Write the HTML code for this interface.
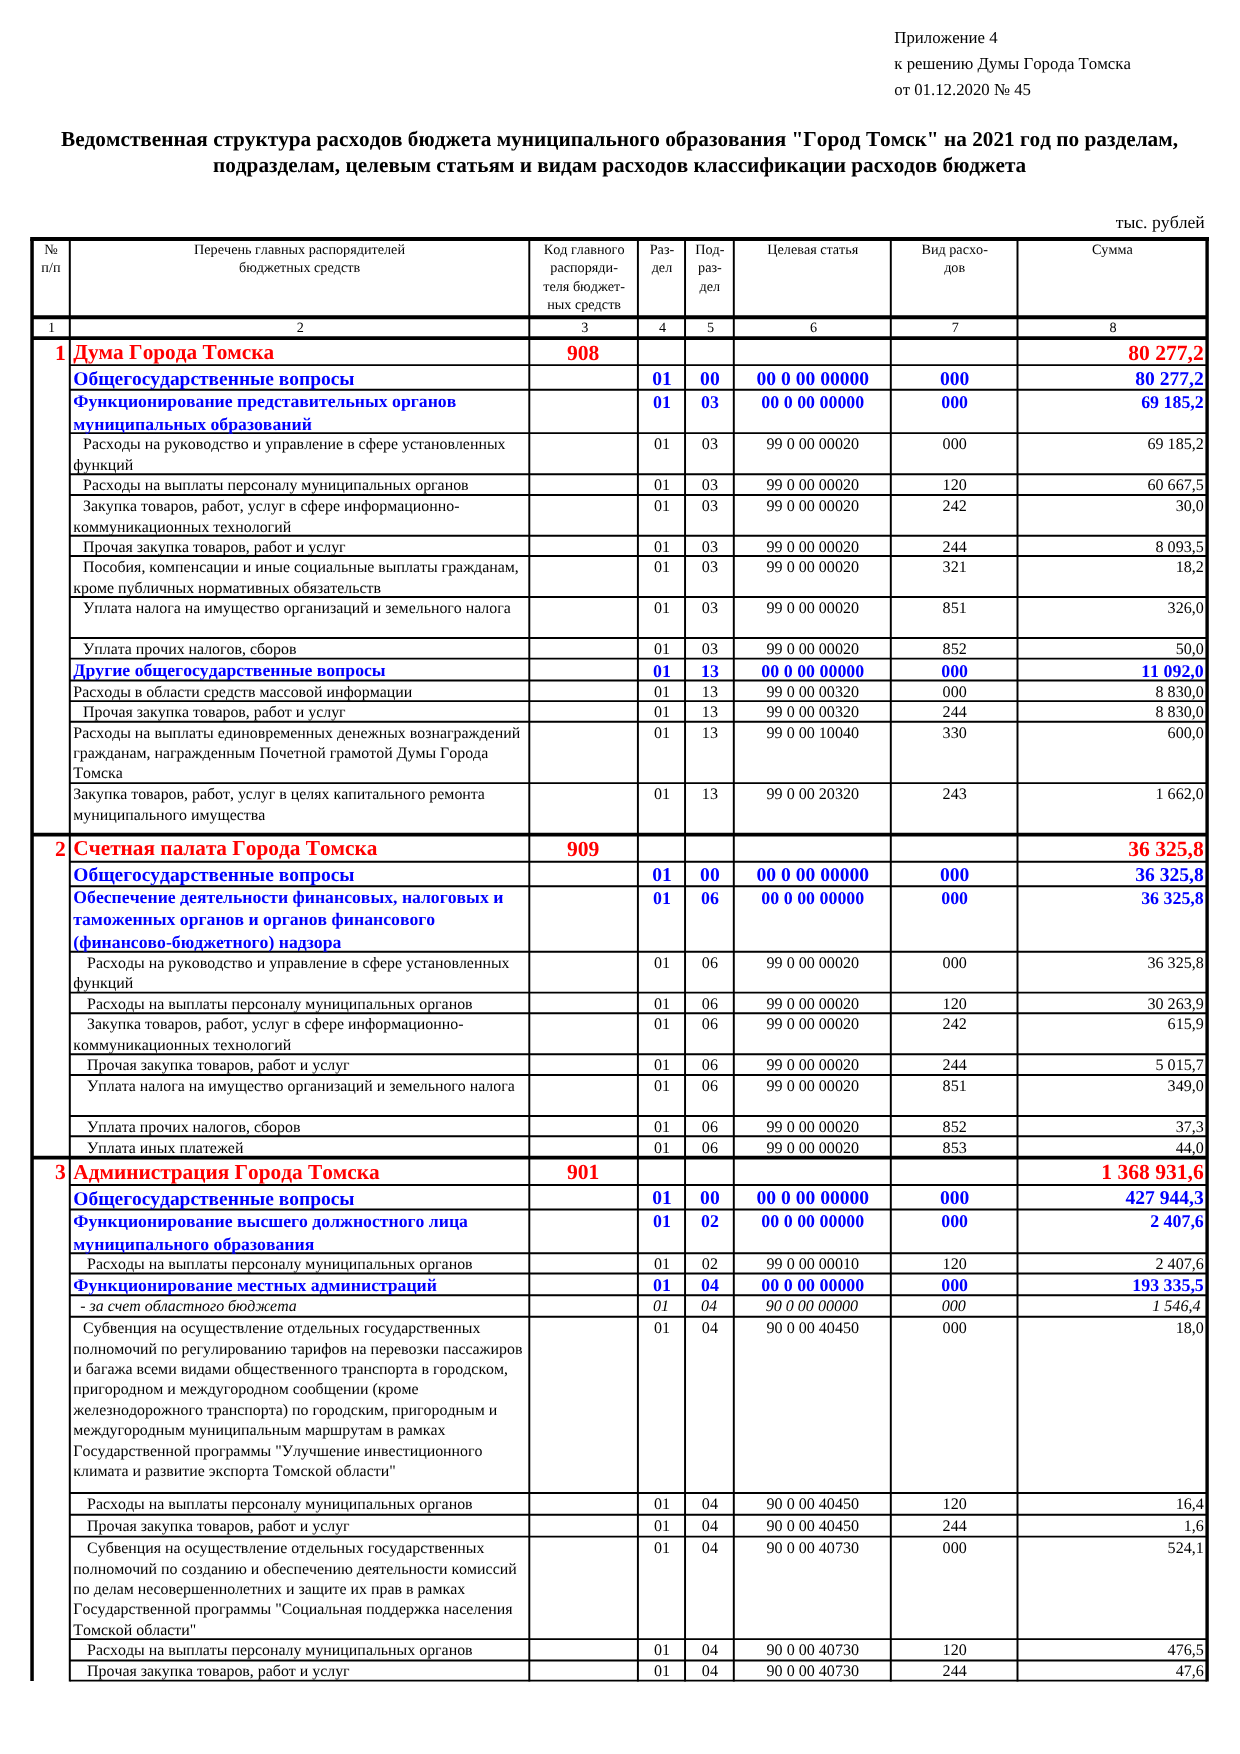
<!DOCTYPE html>
<html lang="ru"><head><meta charset="utf-8"><title>Приложение 4</title>
<style>
html,body{margin:0;padding:0;background:#fff}
body{width:1240px;height:1754px;position:relative;overflow:hidden;font-family:"Liberation Serif","Times New Roman",serif;color:#000;font-kerning:none;text-rendering:geometricPrecision}
text{white-space:pre}
.reg{font-size:15.9px}
.ital{font-size:15.9px;font-style:italic}
.b2{font-size:17.7px;font-weight:bold;fill:#0000ff}
.b2n{font-size:17.9px;font-weight:bold;fill:#0000ff}
.b1n{font-size:19.6px;font-weight:bold;fill:#0000ff}
.redn{font-size:21.6px;font-weight:bold;fill:#ff0000}
.regn{font-size:16.1px}
.italn{font-size:16.1px;font-style:italic}
.b1{font-size:19.45px;font-weight:bold;fill:#0000ff}
.red{font-size:21.3px;font-weight:bold;fill:#ff0000}
.title{font-size:21.25px;font-weight:bold}
.tr{font-size:16.8px}
.unit{font-size:17.7px}
.hd{font-size:14.2px}
.hn{font-size:14.2px}
#pg{position:absolute;left:0;top:0;width:1240px;height:1754px;will-change:transform}
svg{position:absolute;left:0;top:0}
svg line{stroke:#000}
</style></head>
<body>
<div id="pg">
<svg width="1240" height="1754" viewBox="0 0 1240 1754">
<line x1="69.80" y1="365.10" x2="1207.10" y2="365.10" stroke-width="1.95"/>
<line x1="69.80" y1="389.80" x2="1207.10" y2="389.80" stroke-width="1.95"/>
<line x1="69.80" y1="433.10" x2="1207.10" y2="433.10" stroke-width="1.95"/>
<line x1="69.80" y1="474.20" x2="1207.10" y2="474.20" stroke-width="1.95"/>
<line x1="69.80" y1="495.00" x2="1207.10" y2="495.00" stroke-width="1.95"/>
<line x1="69.80" y1="535.70" x2="1207.10" y2="535.70" stroke-width="1.95"/>
<line x1="69.80" y1="556.00" x2="1207.10" y2="556.00" stroke-width="1.95"/>
<line x1="69.80" y1="597.00" x2="1207.10" y2="597.00" stroke-width="1.95"/>
<line x1="69.80" y1="638.00" x2="1207.10" y2="638.00" stroke-width="1.95"/>
<line x1="69.80" y1="658.60" x2="1207.10" y2="658.60" stroke-width="1.95"/>
<line x1="69.80" y1="680.40" x2="1207.10" y2="680.40" stroke-width="1.95"/>
<line x1="69.80" y1="701.10" x2="1207.10" y2="701.10" stroke-width="1.95"/>
<line x1="69.80" y1="721.70" x2="1207.10" y2="721.70" stroke-width="1.95"/>
<line x1="69.80" y1="783.10" x2="1207.10" y2="783.10" stroke-width="1.95"/>
<line x1="32.05" y1="834.70" x2="1207.10" y2="834.70" stroke-width="3.7"/>
<line x1="69.80" y1="861.70" x2="1207.10" y2="861.70" stroke-width="1.95"/>
<line x1="69.80" y1="886.20" x2="1207.10" y2="886.20" stroke-width="1.95"/>
<line x1="69.80" y1="951.70" x2="1207.10" y2="951.70" stroke-width="1.95"/>
<line x1="69.80" y1="992.60" x2="1207.10" y2="992.60" stroke-width="1.95"/>
<line x1="69.80" y1="1013.30" x2="1207.10" y2="1013.30" stroke-width="1.95"/>
<line x1="69.80" y1="1054.20" x2="1207.10" y2="1054.20" stroke-width="1.95"/>
<line x1="69.80" y1="1074.90" x2="1207.10" y2="1074.90" stroke-width="1.95"/>
<line x1="69.80" y1="1116.00" x2="1207.10" y2="1116.00" stroke-width="1.95"/>
<line x1="69.80" y1="1136.30" x2="1207.10" y2="1136.30" stroke-width="1.95"/>
<line x1="32.05" y1="1157.70" x2="1207.10" y2="1157.70" stroke-width="3.7"/>
<line x1="69.80" y1="1185.00" x2="1207.10" y2="1185.00" stroke-width="1.95"/>
<line x1="69.80" y1="1209.40" x2="1207.10" y2="1209.40" stroke-width="1.95"/>
<line x1="69.80" y1="1253.20" x2="1207.10" y2="1253.20" stroke-width="1.95"/>
<line x1="69.80" y1="1273.40" x2="1207.10" y2="1273.40" stroke-width="1.95"/>
<line x1="69.80" y1="1295.30" x2="1207.10" y2="1295.30" stroke-width="1.95"/>
<line x1="69.80" y1="1316.70" x2="1207.10" y2="1316.70" stroke-width="1.95"/>
<line x1="69.80" y1="1493.00" x2="1207.10" y2="1493.00" stroke-width="1.95"/>
<line x1="69.80" y1="1514.70" x2="1207.10" y2="1514.70" stroke-width="1.95"/>
<line x1="69.80" y1="1536.60" x2="1207.10" y2="1536.60" stroke-width="1.95"/>
<line x1="69.80" y1="1639.10" x2="1207.10" y2="1639.10" stroke-width="1.95"/>
<line x1="69.80" y1="1660.50" x2="1207.10" y2="1660.50" stroke-width="1.95"/>
<line x1="69.80" y1="1680.60" x2="1207.10" y2="1680.60" stroke-width="1.95"/>
<line x1="30.15" y1="239.00" x2="1209.00" y2="239.00" stroke-width="4.0"/>
<line x1="32.05" y1="317.35" x2="1207.10" y2="317.35" stroke-width="4.0"/>
<line x1="32.05" y1="338.10" x2="1207.10" y2="338.10" stroke-width="3.8"/>
<line x1="32.05" y1="239.00" x2="32.05" y2="1681.00" stroke-width="3.5"/>
<line x1="1207.10" y1="239.00" x2="1207.10" y2="1681.45" stroke-width="3.4"/>
<line x1="69.80" y1="239.00" x2="69.80" y2="1681.45" stroke-width="2.0"/>
<line x1="529.30" y1="239.00" x2="529.30" y2="1681.45" stroke-width="1.95"/>
<line x1="637.90" y1="239.00" x2="637.90" y2="1681.45" stroke-width="1.95"/>
<line x1="685.05" y1="239.00" x2="685.05" y2="1681.45" stroke-width="1.95"/>
<line x1="733.80" y1="239.00" x2="733.80" y2="1681.45" stroke-width="1.95"/>
<line x1="890.80" y1="239.00" x2="890.80" y2="1681.45" stroke-width="1.95"/>
<line x1="1017.50" y1="239.00" x2="1017.50" y2="1681.45" stroke-width="1.95"/>
</svg>
<svg id="tx" width="1240" height="1754" viewBox="0 0 1240 1754">
<text class="tr" x="894.30" y="43.00">Приложение 4</text>
<text class="tr" x="894.30" y="69.00">к решению Думы Города Томска</text>
<text class="tr" x="894.30" y="94.50">от 01.12.2020 № 45</text>
<text class="title" x="619.50" y="145.70" text-anchor="middle">Ведомственная структура расходов бюджета муниципального образования "Город Томск" на 2021 год по разделам,</text>
<text class="title" x="619.50" y="171.70" text-anchor="middle">подразделам, целевым статьям и видам расходов классификации расходов бюджета</text>
<text class="unit" x="1204.80" y="227.60" text-anchor="end">тыс. рублей</text>
<text class="hd" x="50.92" y="253.70" text-anchor="middle">№</text>
<text class="hd" x="50.92" y="272.10" text-anchor="middle">п/п</text>
<text class="hd" x="299.55" y="253.70" text-anchor="middle">Перечень главных распорядителей</text>
<text class="hd" x="299.55" y="272.10" text-anchor="middle">бюджетных средств</text>
<text class="hd" x="584.10" y="253.70" text-anchor="middle">Код главного</text>
<text class="hd" x="584.10" y="272.10" text-anchor="middle">распоряди-</text>
<text class="hd" x="584.10" y="290.50" text-anchor="middle">теля бюджет-</text>
<text class="hd" x="584.10" y="308.90" text-anchor="middle">ных средств</text>
<text class="hd" x="661.97" y="253.70" text-anchor="middle">Раз-</text>
<text class="hd" x="661.97" y="272.10" text-anchor="middle">дел</text>
<text class="hd" x="709.92" y="253.70" text-anchor="middle">Под-</text>
<text class="hd" x="709.92" y="272.10" text-anchor="middle">раз-</text>
<text class="hd" x="709.92" y="290.50" text-anchor="middle">дел</text>
<text class="hd" x="812.80" y="253.70" text-anchor="middle">Целевая статья</text>
<text class="hd" x="954.65" y="253.70" text-anchor="middle">Вид расхо-</text>
<text class="hd" x="954.65" y="272.10" text-anchor="middle">дов</text>
<text class="hd" x="1112.30" y="253.70" text-anchor="middle">Сумма</text>
<text class="hn" x="51.62" y="332.00" text-anchor="middle">1</text>
<text class="hn" x="300.25" y="332.00" text-anchor="middle">2</text>
<text class="hn" x="584.80" y="332.00" text-anchor="middle">3</text>
<text class="hn" x="662.67" y="332.00" text-anchor="middle">4</text>
<text class="hn" x="710.62" y="332.00" text-anchor="middle">5</text>
<text class="hn" x="813.50" y="332.00" text-anchor="middle">6</text>
<text class="hn" x="955.35" y="332.00" text-anchor="middle">7</text>
<text class="hn" x="1113.00" y="332.00" text-anchor="middle">8</text>
<text class="red" x="73.30" y="359.10">Дума Города Томска</text>
<text class="redn" x="65.90" y="360.00" text-anchor="end">1</text>
<text class="redn" x="583.10" y="360.00" text-anchor="middle">908</text>
<text class="redn" x="1203.80" y="360.00" text-anchor="end">80 277,2</text>
<text class="b1" x="73.30" y="384.70">Общегосударственные вопросы</text>
<text class="b1n" x="661.97" y="385.30" text-anchor="middle">01</text>
<text class="b1n" x="709.92" y="385.30" text-anchor="middle">00</text>
<text class="b1n" x="812.80" y="385.30" text-anchor="middle">00 0 00 00000</text>
<text class="b1n" x="954.65" y="385.30" text-anchor="middle">000</text>
<text class="b1n" x="1203.80" y="385.30" text-anchor="end">80 277,2</text>
<text class="b2" x="73.30" y="406.60">Функционирование представительных органов</text>
<text class="b2" x="73.30" y="429.80">муниципальных образований</text>
<text class="b2n" x="661.97" y="407.90" text-anchor="middle">01</text>
<text class="b2n" x="709.92" y="407.90" text-anchor="middle">03</text>
<text class="b2n" x="812.80" y="407.90" text-anchor="middle">00 0 00 00000</text>
<text class="b2n" x="954.65" y="407.90" text-anchor="middle">000</text>
<text class="b2n" x="1203.80" y="407.90" text-anchor="end">69 185,2</text>
<text class="reg" x="83.10" y="449.10">Расходы на руководство и управление в сфере установленных</text>
<text class="reg" x="73.30" y="469.50">функций</text>
<text class="regn" x="661.97" y="449.10" text-anchor="middle">01</text>
<text class="regn" x="709.92" y="449.10" text-anchor="middle">03</text>
<text class="regn" x="812.80" y="449.10" text-anchor="middle">99 0 00 00020</text>
<text class="regn" x="954.65" y="449.10" text-anchor="middle">000</text>
<text class="regn" x="1203.80" y="449.10" text-anchor="end">69 185,2</text>
<text class="reg" x="83.10" y="490.20">Расходы на выплаты персоналу муниципальных органов</text>
<text class="regn" x="661.97" y="490.20" text-anchor="middle">01</text>
<text class="regn" x="709.92" y="490.20" text-anchor="middle">03</text>
<text class="regn" x="812.80" y="490.20" text-anchor="middle">99 0 00 00020</text>
<text class="regn" x="954.65" y="490.20" text-anchor="middle">120</text>
<text class="regn" x="1203.80" y="490.20" text-anchor="end">60 667,5</text>
<text class="reg" x="83.10" y="511.20">Закупка товаров, работ, услуг в сфере информационно-</text>
<text class="reg" x="73.30" y="531.60">коммуникационных технологий</text>
<text class="regn" x="661.97" y="511.20" text-anchor="middle">01</text>
<text class="regn" x="709.92" y="511.20" text-anchor="middle">03</text>
<text class="regn" x="812.80" y="511.20" text-anchor="middle">99 0 00 00020</text>
<text class="regn" x="954.65" y="511.20" text-anchor="middle">242</text>
<text class="regn" x="1203.80" y="511.20" text-anchor="end">30,0</text>
<text class="reg" x="83.10" y="552.20">Прочая закупка товаров, работ и услуг</text>
<text class="regn" x="661.97" y="552.20" text-anchor="middle">01</text>
<text class="regn" x="709.92" y="552.20" text-anchor="middle">03</text>
<text class="regn" x="812.80" y="552.20" text-anchor="middle">99 0 00 00020</text>
<text class="regn" x="954.65" y="552.20" text-anchor="middle">244</text>
<text class="regn" x="1203.80" y="552.20" text-anchor="end">8 093,5</text>
<text class="reg" x="83.10" y="572.20">Пособия, компенсации и иные социальные выплаты гражданам,</text>
<text class="reg" x="73.30" y="592.60">кроме публичных нормативных обязательств</text>
<text class="regn" x="661.97" y="572.20" text-anchor="middle">01</text>
<text class="regn" x="709.92" y="572.20" text-anchor="middle">03</text>
<text class="regn" x="812.80" y="572.20" text-anchor="middle">99 0 00 00020</text>
<text class="regn" x="954.65" y="572.20" text-anchor="middle">321</text>
<text class="regn" x="1203.80" y="572.20" text-anchor="end">18,2</text>
<text class="reg" x="83.10" y="613.20">Уплата налога на имущество организаций и земельного налога</text>
<text class="regn" x="661.97" y="613.20" text-anchor="middle">01</text>
<text class="regn" x="709.92" y="613.20" text-anchor="middle">03</text>
<text class="regn" x="812.80" y="613.20" text-anchor="middle">99 0 00 00020</text>
<text class="regn" x="954.65" y="613.20" text-anchor="middle">851</text>
<text class="regn" x="1203.80" y="613.20" text-anchor="end">326,0</text>
<text class="reg" x="83.10" y="654.20">Уплата прочих налогов, сборов</text>
<text class="regn" x="661.97" y="654.20" text-anchor="middle">01</text>
<text class="regn" x="709.92" y="654.20" text-anchor="middle">03</text>
<text class="regn" x="812.80" y="654.20" text-anchor="middle">99 0 00 00020</text>
<text class="regn" x="954.65" y="654.20" text-anchor="middle">852</text>
<text class="regn" x="1203.80" y="654.20" text-anchor="end">50,0</text>
<text class="b2" x="73.30" y="675.60">Другие общегосударственные вопросы</text>
<text class="b2n" x="661.97" y="676.90" text-anchor="middle">01</text>
<text class="b2n" x="709.92" y="676.90" text-anchor="middle">13</text>
<text class="b2n" x="812.80" y="676.90" text-anchor="middle">00 0 00 00000</text>
<text class="b2n" x="954.65" y="676.90" text-anchor="middle">000</text>
<text class="b2n" x="1203.80" y="676.90" text-anchor="end">11 092,0</text>
<text class="reg" x="73.30" y="696.60">Расходы в области средств массовой информации</text>
<text class="regn" x="661.97" y="696.60" text-anchor="middle">01</text>
<text class="regn" x="709.92" y="696.60" text-anchor="middle">13</text>
<text class="regn" x="812.80" y="696.60" text-anchor="middle">99 0 00 00320</text>
<text class="regn" x="954.65" y="696.60" text-anchor="middle">000</text>
<text class="regn" x="1203.80" y="696.60" text-anchor="end">8 830,0</text>
<text class="reg" x="83.10" y="717.00">Прочая закупка товаров, работ и услуг</text>
<text class="regn" x="661.97" y="717.00" text-anchor="middle">01</text>
<text class="regn" x="709.92" y="717.00" text-anchor="middle">13</text>
<text class="regn" x="812.80" y="717.00" text-anchor="middle">99 0 00 00320</text>
<text class="regn" x="954.65" y="717.00" text-anchor="middle">244</text>
<text class="regn" x="1203.80" y="717.00" text-anchor="end">8 830,0</text>
<text class="reg" x="73.30" y="737.50">Расходы на выплаты единовременных денежных вознаграждений</text>
<text class="reg" x="73.30" y="757.90">гражданам, награжденным Почетной грамотой Думы Города</text>
<text class="reg" x="73.30" y="778.30">Томска</text>
<text class="regn" x="661.97" y="737.50" text-anchor="middle">01</text>
<text class="regn" x="709.92" y="737.50" text-anchor="middle">13</text>
<text class="regn" x="812.80" y="737.50" text-anchor="middle">99 0 00 10040</text>
<text class="regn" x="954.65" y="737.50" text-anchor="middle">330</text>
<text class="regn" x="1203.80" y="737.50" text-anchor="end">600,0</text>
<text class="reg" x="73.30" y="799.10">Закупка товаров, работ, услуг в целях капитального ремонта</text>
<text class="reg" x="73.30" y="819.50">муниципального имущества</text>
<text class="regn" x="661.97" y="799.10" text-anchor="middle">01</text>
<text class="regn" x="709.92" y="799.10" text-anchor="middle">13</text>
<text class="regn" x="812.80" y="799.10" text-anchor="middle">99 0 00 20320</text>
<text class="regn" x="954.65" y="799.10" text-anchor="middle">243</text>
<text class="regn" x="1203.80" y="799.10" text-anchor="end">1 662,0</text>
<text class="red" x="73.30" y="855.40">Счетная палата Города Томска</text>
<text class="redn" x="65.90" y="856.30" text-anchor="end">2</text>
<text class="redn" x="583.10" y="856.30" text-anchor="middle">909</text>
<text class="redn" x="1203.80" y="856.30" text-anchor="end">36 325,8</text>
<text class="b1" x="73.30" y="881.00">Общегосударственные вопросы</text>
<text class="b1n" x="661.97" y="880.80" text-anchor="middle">01</text>
<text class="b1n" x="709.92" y="880.80" text-anchor="middle">00</text>
<text class="b1n" x="812.80" y="880.80" text-anchor="middle">00 0 00 00000</text>
<text class="b1n" x="954.65" y="880.80" text-anchor="middle">000</text>
<text class="b1n" x="1203.80" y="880.80" text-anchor="end">36 325,8</text>
<text class="b2" x="73.30" y="902.60">Обеспечение деятельности финансовых, налоговых и</text>
<text class="b2" x="73.30" y="925.35">таможенных органов и органов финансового</text>
<text class="b2" x="73.30" y="948.10">(финансово-бюджетного) надзора</text>
<text class="b2n" x="661.97" y="903.80" text-anchor="middle">01</text>
<text class="b2n" x="709.92" y="903.80" text-anchor="middle">06</text>
<text class="b2n" x="812.80" y="903.80" text-anchor="middle">00 0 00 00000</text>
<text class="b2n" x="954.65" y="903.80" text-anchor="middle">000</text>
<text class="b2n" x="1203.80" y="903.80" text-anchor="end">36 325,8</text>
<text class="reg" x="87.10" y="967.90">Расходы на руководство и управление в сфере установленных</text>
<text class="reg" x="73.30" y="988.30">функций</text>
<text class="regn" x="661.97" y="967.90" text-anchor="middle">01</text>
<text class="regn" x="709.92" y="967.90" text-anchor="middle">06</text>
<text class="regn" x="812.80" y="967.90" text-anchor="middle">99 0 00 00020</text>
<text class="regn" x="954.65" y="967.90" text-anchor="middle">000</text>
<text class="regn" x="1203.80" y="967.90" text-anchor="end">36 325,8</text>
<text class="reg" x="87.10" y="1008.50">Расходы на выплаты персоналу муниципальных органов</text>
<text class="regn" x="661.97" y="1008.50" text-anchor="middle">01</text>
<text class="regn" x="709.92" y="1008.50" text-anchor="middle">06</text>
<text class="regn" x="812.80" y="1008.50" text-anchor="middle">99 0 00 00020</text>
<text class="regn" x="954.65" y="1008.50" text-anchor="middle">120</text>
<text class="regn" x="1203.80" y="1008.50" text-anchor="end">30 263,9</text>
<text class="reg" x="87.10" y="1029.30">Закупка товаров, работ, услуг в сфере информационно-</text>
<text class="reg" x="73.30" y="1049.70">коммуникационных технологий</text>
<text class="regn" x="661.97" y="1029.30" text-anchor="middle">01</text>
<text class="regn" x="709.92" y="1029.30" text-anchor="middle">06</text>
<text class="regn" x="812.80" y="1029.30" text-anchor="middle">99 0 00 00020</text>
<text class="regn" x="954.65" y="1029.30" text-anchor="middle">242</text>
<text class="regn" x="1203.80" y="1029.30" text-anchor="end">615,9</text>
<text class="reg" x="87.10" y="1070.40">Прочая закупка товаров, работ и услуг</text>
<text class="regn" x="661.97" y="1070.40" text-anchor="middle">01</text>
<text class="regn" x="709.92" y="1070.40" text-anchor="middle">06</text>
<text class="regn" x="812.80" y="1070.40" text-anchor="middle">99 0 00 00020</text>
<text class="regn" x="954.65" y="1070.40" text-anchor="middle">244</text>
<text class="regn" x="1203.80" y="1070.40" text-anchor="end">5 015,7</text>
<text class="reg" x="87.10" y="1090.60">Уплата налога на имущество организаций и земельного налога</text>
<text class="regn" x="661.97" y="1090.60" text-anchor="middle">01</text>
<text class="regn" x="709.92" y="1090.60" text-anchor="middle">06</text>
<text class="regn" x="812.80" y="1090.60" text-anchor="middle">99 0 00 00020</text>
<text class="regn" x="954.65" y="1090.60" text-anchor="middle">851</text>
<text class="regn" x="1203.80" y="1090.60" text-anchor="end">349,0</text>
<text class="reg" x="87.10" y="1131.70">Уплата прочих налогов, сборов</text>
<text class="regn" x="661.97" y="1131.70" text-anchor="middle">01</text>
<text class="regn" x="709.92" y="1131.70" text-anchor="middle">06</text>
<text class="regn" x="812.80" y="1131.70" text-anchor="middle">99 0 00 00020</text>
<text class="regn" x="954.65" y="1131.70" text-anchor="middle">852</text>
<text class="regn" x="1203.80" y="1131.70" text-anchor="end">37,3</text>
<text class="reg" x="87.10" y="1153.00">Уплата иных платежей</text>
<text class="regn" x="661.97" y="1153.00" text-anchor="middle">01</text>
<text class="regn" x="709.92" y="1153.00" text-anchor="middle">06</text>
<text class="regn" x="812.80" y="1153.00" text-anchor="middle">99 0 00 00020</text>
<text class="regn" x="954.65" y="1153.00" text-anchor="middle">853</text>
<text class="regn" x="1203.80" y="1153.00" text-anchor="end">44,0</text>
<text class="red" x="73.30" y="1178.50">Администрация Города Томска</text>
<text class="redn" x="65.90" y="1179.40" text-anchor="end">3</text>
<text class="redn" x="583.10" y="1179.40" text-anchor="middle">901</text>
<text class="redn" x="1203.80" y="1179.40" text-anchor="end">1 368 931,6</text>
<text class="b1" x="73.30" y="1204.80">Общегосударственные вопросы</text>
<text class="b1n" x="661.97" y="1203.80" text-anchor="middle">01</text>
<text class="b1n" x="709.92" y="1203.80" text-anchor="middle">00</text>
<text class="b1n" x="812.80" y="1203.80" text-anchor="middle">00 0 00 00000</text>
<text class="b1n" x="954.65" y="1203.80" text-anchor="middle">000</text>
<text class="b1n" x="1203.80" y="1203.80" text-anchor="end">427 944,3</text>
<text class="b2" x="73.30" y="1226.60">Функционирование высшего должностного лица</text>
<text class="b2" x="73.30" y="1249.80">муниципального образования</text>
<text class="b2n" x="661.97" y="1226.60" text-anchor="middle">01</text>
<text class="b2n" x="709.92" y="1226.60" text-anchor="middle">02</text>
<text class="b2n" x="812.80" y="1226.60" text-anchor="middle">00 0 00 00000</text>
<text class="b2n" x="954.65" y="1226.60" text-anchor="middle">000</text>
<text class="b2n" x="1203.80" y="1226.60" text-anchor="end">2 407,6</text>
<text class="reg" x="87.10" y="1269.20">Расходы на выплаты персоналу муниципальных органов</text>
<text class="regn" x="661.97" y="1269.20" text-anchor="middle">01</text>
<text class="regn" x="709.92" y="1269.20" text-anchor="middle">02</text>
<text class="regn" x="812.80" y="1269.20" text-anchor="middle">99 0 00 00010</text>
<text class="regn" x="954.65" y="1269.20" text-anchor="middle">120</text>
<text class="regn" x="1203.80" y="1269.20" text-anchor="end">2 407,6</text>
<text class="b2" x="73.30" y="1290.70">Функционирование местных администраций</text>
<text class="b2n" x="661.97" y="1290.70" text-anchor="middle">01</text>
<text class="b2n" x="709.92" y="1290.70" text-anchor="middle">04</text>
<text class="b2n" x="812.80" y="1290.70" text-anchor="middle">00 0 00 00000</text>
<text class="b2n" x="954.65" y="1290.70" text-anchor="middle">000</text>
<text class="b2n" x="1203.80" y="1290.70" text-anchor="end">193 335,5</text>
<text class="ital" x="80.30" y="1311.00">- за счет областного бюджета</text>
<text class="italn" x="661.07" y="1311.00" text-anchor="middle">01</text>
<text class="italn" x="709.02" y="1311.00" text-anchor="middle">04</text>
<text class="italn" x="811.90" y="1311.00" text-anchor="middle">90 0 00 00000</text>
<text class="italn" x="953.75" y="1311.00" text-anchor="middle">000</text>
<text class="italn" x="1200.50" y="1311.00" text-anchor="end">1 546,4</text>
<text class="reg" x="83.10" y="1333.10">Субвенция на осуществление отдельных государственных</text>
<text class="reg" x="73.30" y="1353.50">полномочий по регулированию тарифов на перевозки пассажиров</text>
<text class="reg" x="73.30" y="1373.90">и багажа всеми видами общественного транспорта в городском,</text>
<text class="reg" x="73.30" y="1394.30">пригородном и междугородном сообщении (кроме</text>
<text class="reg" x="73.30" y="1414.70">железнодорожного транспорта) по городским, пригородным и</text>
<text class="reg" x="73.30" y="1435.10">междугородным муниципальным маршрутам в рамках</text>
<text class="reg" x="73.30" y="1455.50">Государственной программы "Улучшение инвестиционного</text>
<text class="reg" x="73.30" y="1475.90">климата и развитие экспорта Томской области"</text>
<text class="regn" x="661.97" y="1333.10" text-anchor="middle">01</text>
<text class="regn" x="709.92" y="1333.10" text-anchor="middle">04</text>
<text class="regn" x="812.80" y="1333.10" text-anchor="middle">90 0 00 40450</text>
<text class="regn" x="954.65" y="1333.10" text-anchor="middle">000</text>
<text class="regn" x="1203.80" y="1333.10" text-anchor="end">18,0</text>
<text class="reg" x="87.10" y="1509.20">Расходы на выплаты персоналу муниципальных органов</text>
<text class="regn" x="661.97" y="1509.20" text-anchor="middle">01</text>
<text class="regn" x="709.92" y="1509.20" text-anchor="middle">04</text>
<text class="regn" x="812.80" y="1509.20" text-anchor="middle">90 0 00 40450</text>
<text class="regn" x="954.65" y="1509.20" text-anchor="middle">120</text>
<text class="regn" x="1203.80" y="1509.20" text-anchor="end">16,4</text>
<text class="reg" x="87.10" y="1530.60">Прочая закупка товаров, работ и услуг</text>
<text class="regn" x="661.97" y="1530.60" text-anchor="middle">01</text>
<text class="regn" x="709.92" y="1530.60" text-anchor="middle">04</text>
<text class="regn" x="812.80" y="1530.60" text-anchor="middle">90 0 00 40450</text>
<text class="regn" x="954.65" y="1530.60" text-anchor="middle">244</text>
<text class="regn" x="1203.80" y="1530.60" text-anchor="end">1,6</text>
<text class="reg" x="87.10" y="1553.10">Субвенция на осуществление отдельных государственных</text>
<text class="reg" x="73.30" y="1573.50">полномочий по созданию и обеспечению деятельности комиссий</text>
<text class="reg" x="73.30" y="1593.90">по делам несовершеннолетних и защите их прав в рамках</text>
<text class="reg" x="73.30" y="1614.30">Государственной программы "Социальная поддержка населения</text>
<text class="reg" x="73.30" y="1634.70">Томской области"</text>
<text class="regn" x="661.97" y="1553.10" text-anchor="middle">01</text>
<text class="regn" x="709.92" y="1553.10" text-anchor="middle">04</text>
<text class="regn" x="812.80" y="1553.10" text-anchor="middle">90 0 00 40730</text>
<text class="regn" x="954.65" y="1553.10" text-anchor="middle">000</text>
<text class="regn" x="1203.80" y="1553.10" text-anchor="end">524,1</text>
<text class="reg" x="87.10" y="1655.30">Расходы на выплаты персоналу муниципальных органов</text>
<text class="regn" x="661.97" y="1655.30" text-anchor="middle">01</text>
<text class="regn" x="709.92" y="1655.30" text-anchor="middle">04</text>
<text class="regn" x="812.80" y="1655.30" text-anchor="middle">90 0 00 40730</text>
<text class="regn" x="954.65" y="1655.30" text-anchor="middle">120</text>
<text class="regn" x="1203.80" y="1655.30" text-anchor="end">476,5</text>
<text class="reg" x="87.10" y="1676.40">Прочая закупка товаров, работ и услуг</text>
<text class="regn" x="661.97" y="1676.40" text-anchor="middle">01</text>
<text class="regn" x="709.92" y="1676.40" text-anchor="middle">04</text>
<text class="regn" x="812.80" y="1676.40" text-anchor="middle">90 0 00 40730</text>
<text class="regn" x="954.65" y="1676.40" text-anchor="middle">244</text>
<text class="regn" x="1203.80" y="1676.40" text-anchor="end">47,6</text>
</svg>
</div>
</body></html>
